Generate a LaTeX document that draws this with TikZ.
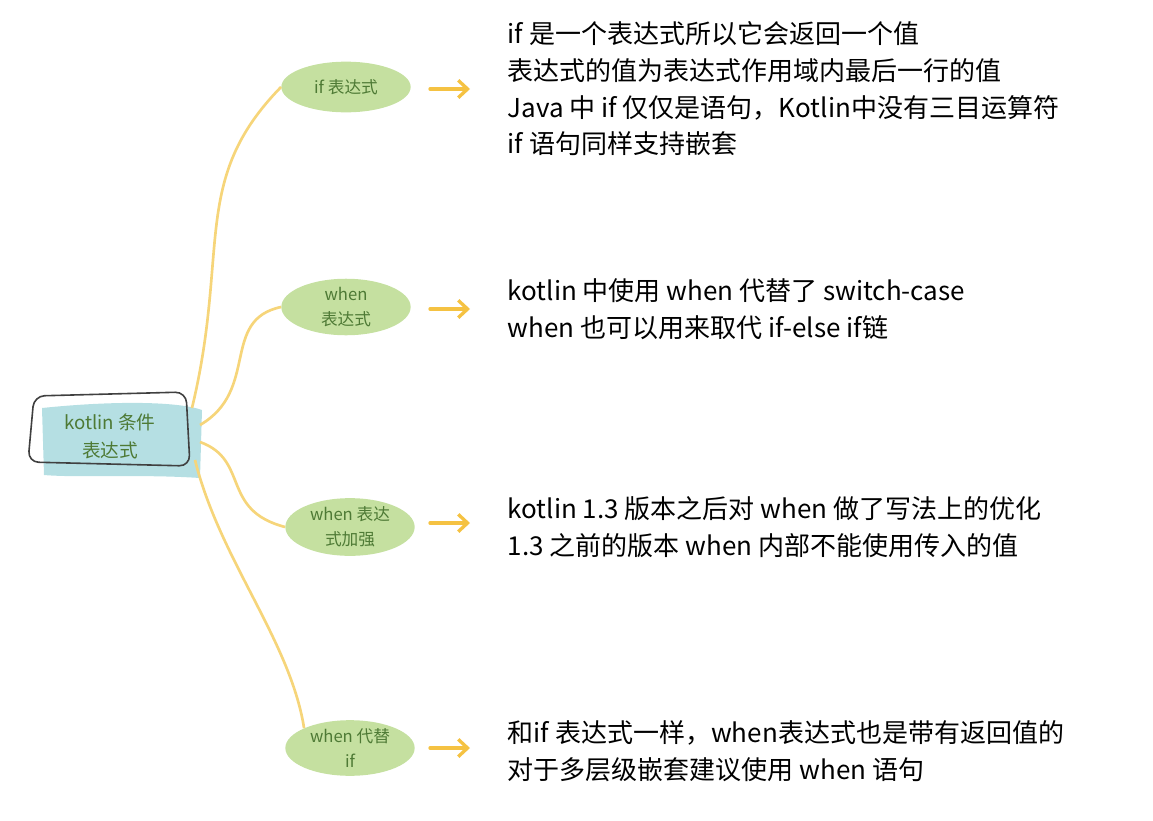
\documentclass[tikz,border=0pt]{standalone}
\usepackage{fontspec}
\setmainfont{Noto Sans CJK SC}
\usetikzlibrary{arrows.meta,shapes.geometric}
\definecolor{leaf}{HTML}{C5E0A0}
\definecolor{leaftext}{HTML}{4E7A35}
\definecolor{sky}{HTML}{B5DFE3}
\definecolor{line}{HTML}{F6D57A}
\definecolor{arr}{HTML}{F5C242}
\tikzset{
  topic/.style={ellipse, fill=leaf, minimum width=97pt, minimum height=38pt, inner sep=0pt, align=center, text=leaftext, font=\fontsize{12.5}{19}\selectfont},
  desc/.style={anchor=west, align=left, font=\fontsize{19.5}{27.5}\selectfont},
  branch/.style={draw=line, line width=2pt},
  pointer/.style={draw=arr, line width=2.5pt, -{Straight Barb[length=7pt,width=13pt]}, line cap=round}
}
\begin{document}
\begin{tikzpicture}[x=0.75pt,y=-0.75pt]
\useasboundingbox (0,0) rectangle (1153,821);
\fill[sky] (42,408) .. controls (120,400) and (180,402) .. (202,410) -- (200,478) .. controls (140,474) and (80,478) .. (44,475) -- cycle;
\draw[black!75, line width=1.2pt, rounded corners=8pt] (34,396) -- (186,392) -- (190,466) -- (28,462) -- cycle;
\node[align=center, text=leaftext, font=\fontsize{14}{21}\selectfont] (c) at (110,436) {kotlin 条件\\表达式};
\coordinate (c1) at (192,408);
\coordinate (c2) at (200,425);
\coordinate (c3) at (200,442);
\coordinate (c4) at (195,460);
\node[topic] (t1) at (346,87) {if 表达式};
\node[topic] (t2) at (346,307) {when\\表达式};
\node[topic] (t3) at (350,527) {when 表达\\式加强};
\node[topic] (t4) at (350,748) {when 代替\\if};
\draw[branch] (c1) .. controls (230,250) and (190,180) .. (t1.west);
\draw[branch] (c2) .. controls (260,390) and (220,320) .. (t2.west);
\draw[branch] (c3) .. controls (250,460) and (220,510) .. (t3.west);
\draw[branch] (c4) .. controls (220,560) and (290,640) .. (t4.north west);
\foreach \n/\y in {a1/89,a2/309,a3/523,a4/748}{
  \coordinate (\n s) at (430,\y); \coordinate (\n e) at (470,\y);
  \draw[pointer] (\n s) -- (\n e);
}
\node[desc] (d1) at (503,89) {if 是一个表达式所以它会返回一个值\\表达式的值为表达式作用域内最后一行的值\\Java 中 if 仅仅是语句，Kotlin中没有三目运算符\\if 语句同样支持嵌套};
\node[desc] (d2) at (503,309) {kotlin 中使用 when 代替了 switch-case\\when 也可以用来取代 if-else if链};
\node[desc] (d3) at (503,527) {kotlin 1.3 版本之后对 when 做了写法上的优化\\1.3 之前的版本 when 内部不能使用传入的值};
\node[desc] (d4) at (503,751) {和if 表达式一样，when表达式也是带有返回值的\\对于多层级嵌套建议使用 when 语句};
\end{tikzpicture}
\end{document}
